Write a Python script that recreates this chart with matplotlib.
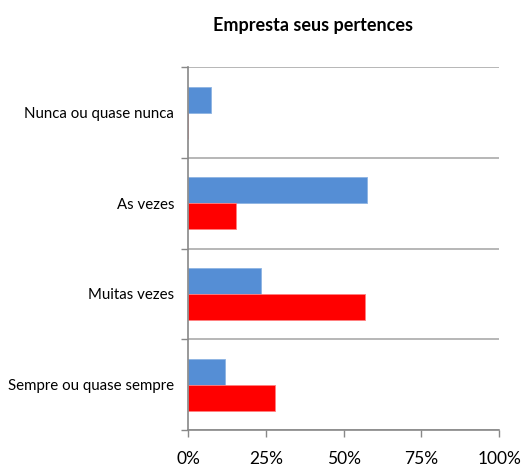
import matplotlib.pyplot as plt
import numpy as np
from matplotlib.ticker import PercentFormatter

# chart data
categories = ["Nunca ou quase nunca", "As vezes", "Muitas vezes", "Sempre ou quase sempre"]
blue_vals = [7.5, 57.5, 23.6, 11.9]
red_vals = [0.0, 15.4, 56.9, 27.8]
x_ticks = [0, 25, 50, 75, 100]

plt.rcParams['font.family'] = ['Lato', 'DejaVu Sans']

fig = plt.figure(figsize=(5.23, 4.69), dpi=100)
ax = fig.add_axes([0.3595, 0.0832, 0.5952, 0.7733])

y = np.arange(len(categories))
h = 0.287
ax.barh(y - h / 2, blue_vals, height=h, color='#558ED5', edgecolor='#8DB3E2', linewidth=0.6)
ax.barh(y + h / 2, red_vals, height=h, color='#FF0000', edgecolor='#FF8080', linewidth=0.6)

ax.set_xlim(0, 100)
ax.set_ylim(len(categories) - 0.5, -0.5)

# category labels without tick marks, boundary ticks as minor ticks
ax.set_yticks(y)
ax.set_yticklabels(categories, fontsize=10.8)
ax.set_yticks(np.arange(-0.5, len(categories)), minor=True)
ax.tick_params(axis='y', which='major', length=0, pad=10)
ax.tick_params(axis='y', which='minor', length=5, color='#888888', width=1)
ax.grid(axis='y', which='minor', color='#AAAAAA', linewidth=1.2)

ax.set_xticks(x_ticks)
ax.xaxis.set_major_formatter(PercentFormatter(decimals=0))
ax.tick_params(axis='x', length=5, color='#888888', width=1, labelsize=12.5, pad=10)

for s in ['top', 'right']:
    ax.spines[s].set_visible(False)
ax.spines['left'].set_color('#888888')
ax.spines['bottom'].set_color('#888888')
ax.spines['left'].set_linewidth(1.2)
ax.spines['bottom'].set_linewidth(1.2)
ax.set_axisbelow(True)

fig.text(0.598, 0.945, "Empresta seus pertences", ha='center', va='center',
         fontsize=13, fontweight='bold')

fig.savefig("out.png", dpi=100)
